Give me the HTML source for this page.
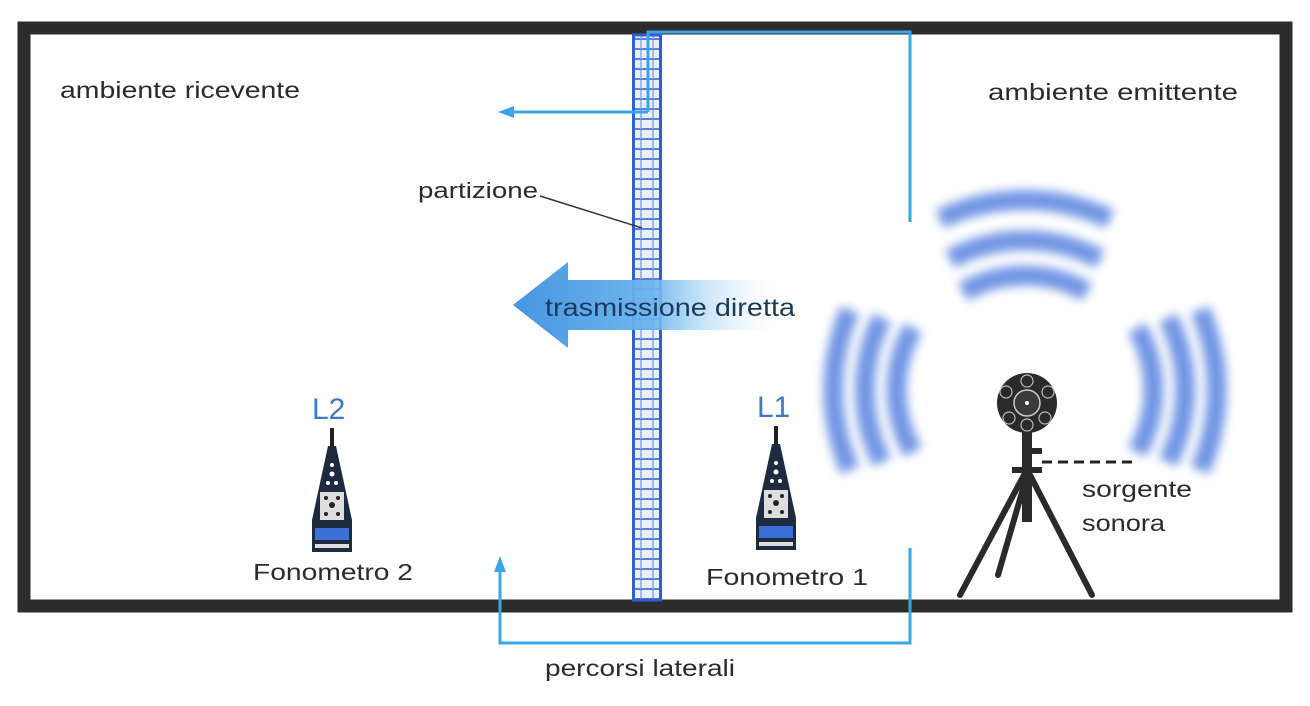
<!DOCTYPE html>
<html><head><meta charset="utf-8"><style>
html,body{margin:0;padding:0;background:#fff}
svg{display:block}
text{font-family:"Liberation Sans",sans-serif}
</style></head><body>
<svg width="1310" height="706" viewBox="0 0 1310 706" xmlns="http://www.w3.org/2000/svg">
<defs>
<pattern id="brick" x="634" y="0" width="26" height="10" patternUnits="userSpaceOnUse">
<rect width="26" height="10" fill="#e8f0ff"/>
<line x1="0" y1="9" x2="26" y2="9" stroke="#5a7fd8" stroke-width="2"/>
<line x1="7" y1="0" x2="7" y2="9" stroke="#8aa6e8" stroke-width="1.5"/>
<line x1="19" y1="0" x2="19" y2="9" stroke="#8aa6e8" stroke-width="1.5"/>
</pattern>
<linearGradient id="ag" x1="0" x2="1" y1="0" y2="0">
<stop offset="0" stop-color="#3c8fe0"/>
<stop offset="0.5" stop-color="#6ab4ee"/>
<stop offset="1" stop-color="#ffffff" stop-opacity="0"/>
</linearGradient>
<filter id="bl" x="-30%" y="-30%" width="160%" height="160%"><feGaussianBlur stdDeviation="5"/></filter>
</defs>
<rect x="24" y="28" width="1262" height="578" fill="none" stroke="#2e2b2b" stroke-width="13"/>
<rect x="634" y="35" width="26" height="565" fill="url(#brick)"/>
<rect x="633.5" y="35" width="27" height="565" fill="none" stroke="#2f5fd0" stroke-width="3"/>
<polyline points="648,112 648,32 910,32 910,222" fill="none" stroke="#3aa6e6" stroke-width="3"/>
<line x1="648" y1="112" x2="510" y2="112" stroke="#3aa6e6" stroke-width="3"/>
<polygon points="498,112 514,106 514,118" fill="#3aa6e6"/>
<polyline points="500,572 500,643 910,643 910,548" fill="none" stroke="#3aa6e6" stroke-width="3"/>
<polygon points="500,556 494,572 506,572" fill="#3aa6e6"/>
<polygon points="513,305 568,262 568,280 790,280 790,330 568,330 568,348" fill="url(#ag)" opacity="0.95"/>
<text x="545" y="316" font-size="25" fill="#1c3a5c" textLength="250" lengthAdjust="spacingAndGlyphs">trasmissione diretta</text>
<text x="60" y="98" font-size="23" fill="#2b2b2b" textLength="240" lengthAdjust="spacingAndGlyphs">ambiente ricevente</text>
<text x="988" y="100" font-size="23" fill="#2b2b2b" textLength="250" lengthAdjust="spacingAndGlyphs">ambiente emittente</text>
<text x="418" y="198" font-size="22" fill="#2b2b2b" textLength="120" lengthAdjust="spacingAndGlyphs">partizione</text>
<line x1="540" y1="196" x2="642" y2="228" stroke="#333" stroke-width="1.5"/>
<text x="545" y="676" font-size="23" fill="#2b2b2b" textLength="190" lengthAdjust="spacingAndGlyphs">percorsi laterali</text>
<text x="253" y="580" font-size="23" fill="#2b2b2b" textLength="160" lengthAdjust="spacingAndGlyphs">Fonometro 2</text>
<text x="706" y="585" font-size="23" fill="#2b2b2b" textLength="162" lengthAdjust="spacingAndGlyphs">Fonometro 1</text>
<text x="312" y="419" font-size="30" fill="#3a78c8">L2</text>
<text x="757" y="417" font-size="30" fill="#3a78c8">L1</text>
<text x="1082" y="497" font-size="23" fill="#2b2b2b" textLength="110" lengthAdjust="spacingAndGlyphs">sorgente</text>
<text x="1082" y="531" font-size="23" fill="#2b2b2b" textLength="83" lengthAdjust="spacingAndGlyphs">sonora</text>
<g fill="none" stroke="#5a84e0" stroke-width="20" filter="url(#bl)" opacity="0.85">
<path d="M940,219 A200,200 0 0 1 1110,219"/>
<path d="M950,259 A160,160 0 0 1 1100,259"/>
<path d="M963,292 A125,125 0 0 1 1087,292"/>
<path d="M850,310 A200,200 0 0 0 850,470"/>
<path d="M882,318 A160,160 0 0 0 882,462"/>
<path d="M913,328 A125,125 0 0 0 913,452"/>
<path d="M1200,310 A200,200 0 0 1 1200,470"/>
<path d="M1168,318 A160,160 0 0 1 1168,462"/>
<path d="M1137,328 A125,125 0 0 1 1137,452"/>
</g>
<circle cx="1027" cy="403" r="30" fill="#2a2a2a"/>
<circle cx="1027" cy="403" r="13" fill="#3a3a3a" stroke="#ccc" stroke-width="1.5"/>
<circle cx="1027" cy="403" r="2" fill="#fff"/>
<g fill="none" stroke="#bbb" stroke-width="1.2">
<circle cx="1027" cy="381" r="6"/><circle cx="1027" cy="425" r="6"/>
<circle cx="1006" cy="392" r="6"/><circle cx="1048" cy="392" r="6"/>
<circle cx="1009" cy="418" r="6"/><circle cx="1045" cy="418" r="6"/>
</g>
<rect x="1022" y="432" width="10" height="90" fill="#2a2a2a"/>
<rect x="1032" y="448" width="10" height="6" fill="#2a2a2a"/>
<rect x="1012" y="467" width="30" height="6" fill="#2a2a2a"/>
<line x1="1042" y1="462" x2="1132" y2="462" stroke="#222" stroke-width="3" stroke-dasharray="10 6"/>
<g stroke="#2a2a2a" stroke-width="6" stroke-linecap="round">
<line x1="1024" y1="475" x2="960" y2="595"/>
<line x1="1030" y1="475" x2="1092" y2="595"/>
<line x1="1027" y1="475" x2="998" y2="575"/>
</g>
<g id="m2">
<rect x="330" y="428" width="4" height="20" fill="#222"/>
<path d="M328,446 L336,446 L352,520 L352,552 L312,552 L312,520 Z" fill="#1e2a40"/>
<g fill="#fff"><circle cx="332" cy="465" r="2"/><circle cx="332" cy="474" r="2.5"/><circle cx="328" cy="483" r="2"/><circle cx="336" cy="483" r="2"/>
<rect x="320" y="492" width="24" height="28" fill="#ddd"/></g>
<g fill="#222"><circle cx="326" cy="498" r="2"/><circle cx="338" cy="498" r="2"/><circle cx="332" cy="505" r="3"/><circle cx="326" cy="514" r="2"/><circle cx="338" cy="514" r="2"/></g>
<rect x="315" y="528" width="34" height="12" fill="#3a6fd8"/>
<rect x="315" y="544" width="34" height="4" fill="#ddd"/>
</g>
<use href="#m2" x="444" y="-2"/>
</svg>
</body></html>
